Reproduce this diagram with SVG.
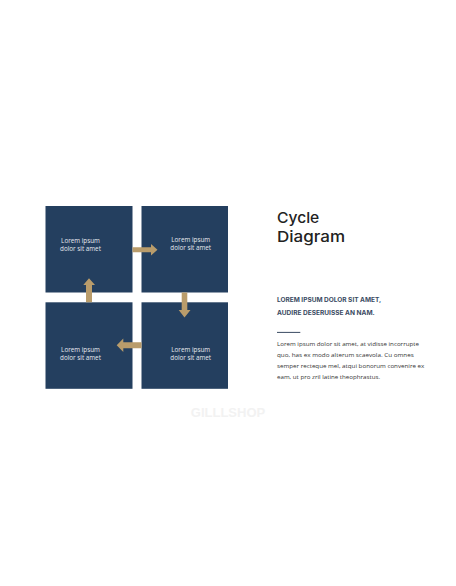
<svg xmlns="http://www.w3.org/2000/svg" width="456" height="586" viewBox="0 0 456 586">
<style>
.box{fill:#243F5F}
.bt{font-family:"Open Sans","Liberation Sans",sans-serif;font-size:6.3px;fill:#E6E9EE;text-anchor:middle}
.arr{fill:#B99C6B}
.title{font-family:"Inter","Liberation Sans",sans-serif;font-size:15px;font-weight:500;fill:#222}
.sub{font-family:"Inter","Liberation Sans",sans-serif;font-size:6.2px;font-weight:700;fill:#3A4A62}
.p{font-family:"Open Sans","Liberation Sans",sans-serif;font-size:6.1px;fill:#333}
.wm{font-family:"Liberation Sans",sans-serif;font-size:13px;font-weight:700;fill:#F2F2F2;text-anchor:middle}
</style>
<rect width="456" height="586" fill="#FFFFFF"/>
<g id="node1"><rect class="box" x="45.5" y="206" width="87" height="86.5"/><text class="bt" x="80.5" y="242.7">Lorem ipsum</text><text class="bt" x="80.5" y="251.2">dolor sit amet</text></g>
<g id="node2"><rect class="box" x="141.5" y="206" width="86.5" height="86.5"/><text class="bt" x="190.7" y="241.5">Lorem ipsum</text><text class="bt" x="190.7" y="250.2">dolor sit amet</text></g>
<g id="node3"><rect class="box" x="141.5" y="302.3" width="86.5" height="86.5"/><text class="bt" x="190.7" y="351.7">Lorem ipsum</text><text class="bt" x="190.7" y="360.4">dolor sit amet</text></g>
<g id="node4"><rect class="box" x="45.5" y="302.3" width="87" height="86.5"/><text class="bt" x="80.5" y="351.7">Lorem ipsum</text><text class="bt" x="80.5" y="360.4">dolor sit amet</text></g>
<g id="connectors">
<polygon class="arr" points="132.5,247.3 151,247.3 151,244 157.5,249.8 151,255.5 151,252.3 132.5,252.3"/>
<polygon class="arr" points="181.7,292.5 181.7,310 178.7,310 184.5,317.5 190.5,310 187.3,310 187.3,292.5"/>
<polygon class="arr" points="141.5,342.3 123.3,342.3 123.3,338.5 116.7,345.3 123.3,352 123.3,348.3 141.5,348.3"/>
<polygon class="arr" points="86,302.3 86,285 83.3,285 89,278.3 95,285 92,285 92,302.3"/>
</g>
<g id="text">
<text class="title" x="277" y="223.3" textLength="42.3" lengthAdjust="spacingAndGlyphs">Cycle</text>
<text class="title" x="277" y="241.7" textLength="68" lengthAdjust="spacingAndGlyphs">Diagram</text>
<text class="sub" x="277" y="302.3" textLength="104.3" lengthAdjust="spacingAndGlyphs">LOREM  IPSUM  DOLOR  SIT  AMET,</text>
<text class="sub" x="277" y="314.7" textLength="97.7" lengthAdjust="spacingAndGlyphs">AUDIRE  DESERUISSE  AN  NAM.</text>
<line x1="277" y1="332.4" x2="300.3" y2="332.4" stroke="#3A4A62" stroke-width="1"/>
<text class="p" x="277" y="345.7" textLength="142" lengthAdjust="spacingAndGlyphs">Lorem ipsum dolor sit amet, at vidisse incorrupte</text>
<text class="p" x="277" y="356.7" textLength="136.7" lengthAdjust="spacingAndGlyphs">quo, has ex modo alterum scaevola. Cu omnes</text>
<text class="p" x="277" y="367.7" textLength="147.3" lengthAdjust="spacingAndGlyphs">semper recteque mel, atqui bonorum convenire ex</text>
<text class="p" x="277" y="378.7" textLength="103" lengthAdjust="spacingAndGlyphs">eam, ut pro zril latine theophrastus.</text>
<text class="wm" x="228" y="416.5">GILLLSHOP</text>
</g>
</svg>
